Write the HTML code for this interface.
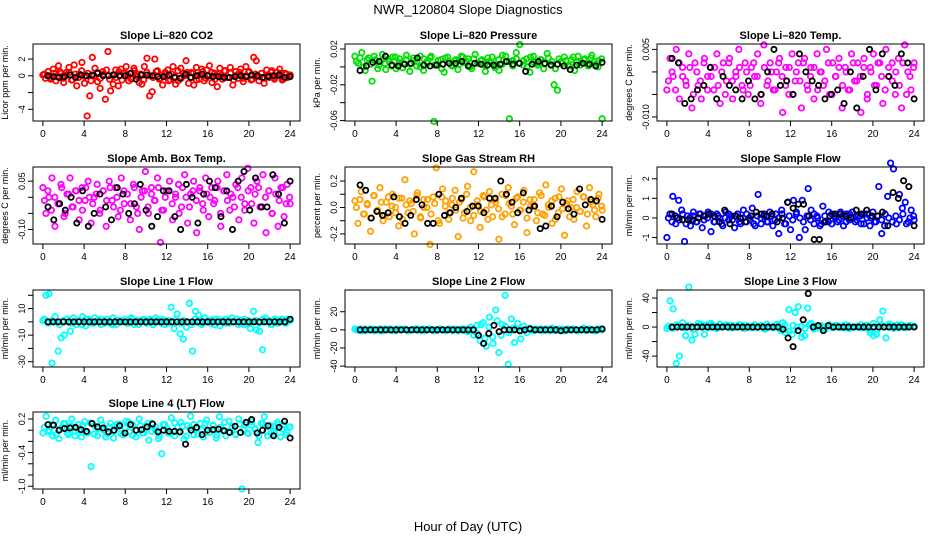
<!DOCTYPE html>
<html><head><meta charset="utf-8">
<style>
html,body{margin:0;padding:0;background:#fff;}
svg{display:block;font-family:"Liberation Sans",Arial,sans-serif;}
</style></head>
<body>
<svg id="chart" width="936" height="540" viewBox="0 0 936 540" xmlns="http://www.w3.org/2000/svg">
<text x="468" y="14" font-size="13" text-anchor="middle">NWR_120804  Slope Diagnostics</text>
<text x="468" y="531" font-size="13" text-anchor="middle">Hour of Day (UTC)</text>
</svg>
<script>
const xTicks=[0,4,8,12,16,20,24];
const co2Vals=[0.1,-0.3,0.5,-0.2,0.8,-0.6,1.2,0.3,-0.8,0.4,1.0,-0.5,1.3,-1.2,0.2,1.6,-0.9,-4.8,-2.4,2.2,0.9,-0.7,-1.5,0.5,-2.8,2.9,-1.8,-1.0,0.7,-1.2,0.8,0.3,1.1,-0.6,-0.4,0.9,0.2,-0.8,-1.0,1.1,2.1,-2.4,-1.9,2.0,0.6,-0.3,-1.1,0.4,0.7,-0.5,1.1,-1.0,-0.6,0.9,0.3,1.8,-0.9,0.4,-1.1,1.0,-0.4,0.8,-0.6,0.7,1.2,-0.8,0.3,-1.3,0.9,-0.4,0.6,-0.2,1.0,-1.1,0.5,-0.3,0.8,-0.7,1.1,0.4,-0.5,2.2,1.8,-0.6,0.3,-0.9,0.7,-0.2,0.6,-0.4,0.4,0.8,-0.5,0.3,-0.2,0.1];
const co2Vals2=[0.2,0.0,-0.4,0.3,-0.1,0.5,-0.3,0.1,0.4,-0.5,0.2,-0.2,0.6,-0.1,0.3,-0.6,0.0,0.4,-0.3,0.2,0.7,-0.4,0.1,-0.2,0.5,-0.5,0.3,0.0,-0.3,0.6,-0.1,0.2,-0.5,0.4,0.0,-0.2,0.5,-0.4,0.1,0.3,-0.6,0.2,-0.1,0.6,-0.3,0.0,0.4,-0.2,0.3,-0.5,0.1,0.5,-0.3,0.0,0.4,-0.4,0.2,-0.1,0.6,-0.2,0.3,-0.5,0.1,0.4,-0.3,0.0,0.5,-0.4,0.2,-0.1,0.3,-0.3,0.1,0.4,-0.2,0.0,0.3,-0.4,0.2,0.1];
const co2Blk=[0,-0.1,-0.2,-0.1,0.1,-0.2,0.1,0,0.1,0.3,0,0,0.1,0,0,0.3,-0.4,0.1,0.1,0,-0.1,-0.1,0.1,-0.2,-0.3,0.2,-0.2,0,0.2,0,-0.1,-0.1,-0.2,-0.2,-0.1,0,-0.1,0.1,0,-0.2,-0.1,0,0.1,-0.2,-0.1];
const presVals=[0.012,0.004,0.016,-0.004,0.01,-0.016,0.008,0.002,0.014,-0.003,0.006,0.011,-0.002,0.009,0.004,0.013,-0.005,0.007,0.001,0.012,-0.004,0.006,0.01,-0.061,0.003,0.008,-0.006,0.011,0.002,0.007,-0.003,0.012,0.005,0.009,-0.002,0.014,0.004,0.008,-0.005,0.006,0.011,0.001,-0.004,0.013,0.006,-0.058,0.007,0.016,0.025,0.002,0.009,-0.006,0.012,0.004,0.008,-0.002,0.015,0.003,-0.02,-0.026,0.006,0.011,0.001,0.008,-0.004,0.012,0.005,0.009,0.001,0.013,0.003,0.007,-0.058];
const presVals2=[0.006,0.01,0.0,0.008,0.003,0.012,-0.002,0.007,0.004,0.009,0.001,0.011,0.005,-0.001,0.008,0.003,0.01,0.006,0.0,0.009,0.004,0.012,0.002,0.007,-0.002,0.01,0.005,0.001,0.008,0.003,0.011,0.006,0.0,0.009,0.004,0.007,0.002,0.01,0.005,-0.001,0.008,0.003,0.012,0.006,0.001,0.009,0.004,0.007,0.0,0.011,0.005,0.002,0.008,0.003,0.01,0.006,-0.002,0.009,0.004,0.007,0.001,0.011,0.005,0.002,0.008,0.003,0.01,0.006,0.0,0.009];
const presBlk=[-0.004,0.001,0.005,0.006,0.012,0.002,0.001,0.003,0.004,0.01,0.002,0.001,0.002,0.003,0.004,0.004,0.006,0.001,0.004,0.003,0.002,0.002,0.003,0.006,0.003,0.004,-0.005,0.003,0.006,0.004,0.002,0.003,0.001,-0.003,0.002,0.004,0.003,0.001,0.005];
const tempVals=[-0.004,0.003,-0.001,0.005,-0.006,0.001,-0.002,0.004,-0.008,0.002,-0.003,-0.006,0.003,-0.001,0.001,-0.004,0.004,-0.007,0.002,-0.002,0.003,-0.006,0.0,0.005,-0.003,0.002,-0.005,0.001,-0.001,0.004,-0.007,0.006,-0.003,0.002,-0.004,0.0,0.003,-0.009,0.001,-0.005,0.004,-0.002,0.002,-0.008,0.003,-0.004,0.001,-0.006,0.004,0.0,-0.003,0.005,-0.005,0.002,-0.001,0.003,-0.008,0.001,-0.004,0.004,-0.002,0.002,-0.009,0.003,-0.006,0.001,0.004,-0.003,0.002,-0.007,0.005,-0.001,0.002,-0.005,0.003,-0.008,0.006,0.0,-0.004,0.002];
const tempVals2=[-0.002,0.0,-0.004,0.002,-0.001,-0.003,0.001,-0.005,0.0,-0.002,0.002,-0.004,-0.001,0.001,-0.003,0.0,-0.005,0.002,-0.002,-0.001,0.001,-0.004,0.0,-0.003,0.002,-0.001,-0.005,0.001,-0.002,0.0,-0.004,0.002,-0.001,-0.003,0.001,-0.005,0.0,-0.002,0.002,-0.003,-0.001,0.001,-0.004,0.0,-0.002,0.002,-0.005,-0.001,0.001,-0.003,0.0,-0.004,0.002,-0.002,-0.001,0.001,-0.005,0.0,-0.003,0.002,-0.001,-0.004,0.001,-0.002,0.0,-0.003,0.002,-0.005,-0.001,0.001];
const tempBlk=[0.003,0.002,-0.007,-0.006,-0.004,-0.003,0.001,-0.006,-0.001,-0.003,-0.004,-0.006,-0.002,-0.006,-0.005,0.0,0.005,-0.003,-0.002,-0.005,0.004,0.0,-0.002,-0.003,-0.006,-0.005,-0.004,-0.007,0.0,-0.008,-0.001,0.005,-0.004,0.004,-0.001,-0.003,0.004,0.002,-0.006];
const boxVals=[0.03,-0.05,0.0,0.06,-0.09,-0.02,0.04,-0.06,0.01,0.06,-0.03,0.02,-0.07,0.03,-0.01,0.05,-0.08,0.0,0.04,-0.04,0.02,-0.09,0.05,-0.01,0.03,-0.06,0.06,-0.02,0.01,-0.07,0.04,-0.03,-0.10,0.02,0.08,-0.05,0.03,-0.01,0.06,-0.14,-0.04,0.02,0.05,-0.07,0.0,0.04,-0.03,0.07,-0.08,0.01,0.05,-0.11,0.02,-0.02,0.06,-0.06,0.03,-0.01,0.05,-0.09,0.02,0.07,-0.04,0.0,0.04,-0.07,0.06,-0.02,0.09,0.03,-0.08,0.05,-0.03,0.07,-0.11,0.02,-0.05,0.06,-0.09,0.03,-0.06,0.04,-0.02];
const boxVals2=[-0.01,0.02,-0.04,0.0,-0.02,0.03,-0.05,0.01,-0.03,0.02,-0.01,-0.04,0.03,0.0,-0.02,0.01,-0.05,0.02,-0.01,0.03,-0.03,0.0,-0.04,0.02,0.01,-0.02,0.03,-0.05,0.0,0.02,-0.03,0.01,-0.01,0.03,-0.04,0.0,0.02,-0.02,0.01,-0.05,0.03,0.0,-0.03,0.02,-0.01,0.03,-0.04,0.01,0.0,-0.02,0.03,-0.05,0.02,-0.01,0.01,-0.03,0.03,0.0,-0.04,0.02,-0.02,0.01,0.03,-0.03,0.0,0.02,-0.05,0.01,-0.01,0.03,-0.02,0.0];
const boxBlk=[-0.03,-0.07,-0.02,-0.04,0.0,-0.08,0.02,-0.09,-0.05,0.01,-0.03,-0.07,0.03,0.01,-0.05,-0.02,0.04,-0.04,-0.09,-0.06,0.02,0.02,-0.06,-0.1,0.04,0.0,-0.08,0.01,0.05,0.03,-0.06,0.02,-0.1,0.05,0.08,-0.04,0.06,-0.03,-0.03,0.07,0.01,-0.08,0.05];
const rhVals=[0.05,-0.12,0.12,-0.05,0.02,-0.18,0.09,-0.03,0.15,-0.1,0.04,-0.07,0.1,0.0,-0.14,0.07,0.21,-0.04,0.03,-0.2,0.11,-0.08,0.06,0.0,-0.28,0.08,0.3,-0.12,0.14,0.05,-0.09,0.02,0.13,-0.22,0.06,-0.04,0.16,-0.1,0.27,0.02,-0.15,0.09,-0.02,0.12,-0.07,0.04,-0.24,0.1,-0.05,0.15,0.01,-0.13,0.08,-0.02,0.13,-0.19,0.06,0.01,-0.1,0.11,-0.05,0.17,0.0,-0.12,0.07,-0.04,0.14,-0.21,0.05,0.0,-0.09,0.12,-0.03,0.08,-0.14,0.15,0.02,-0.07,0.1,-0.02];
const rhVals2=[0.0,0.06,-0.05,0.03,-0.08,0.09,-0.02,0.04,-0.06,0.08,0.01,-0.04,0.07,-0.09,0.02,0.05,-0.03,0.09,-0.07,0.0,0.06,-0.05,0.03,-0.1,0.08,0.01,-0.04,0.07,-0.02,0.04,-0.08,0.1,0.0,-0.06,0.05,-0.03,0.08,-0.09,0.02,0.06,-0.01,-0.07,0.09,0.03,-0.05,0.07,-0.02,0.04,-0.08,0.01,0.06,-0.04,0.09,-0.06,0.02,0.05,-0.09,0.08,-0.01,0.03,-0.07,0.06,0.0,-0.03,0.08,-0.05,0.04,-0.02,0.07,0.01];
const rhBlk=[0.17,0.13,-0.08,-0.03,-0.06,-0.04,0.08,-0.07,-0.12,-0.06,0.06,0.02,-0.12,-0.12,0.1,-0.06,-0.04,0.0,0.07,-0.03,0.01,0.01,-0.04,0.07,0.07,0.2,0.1,0.04,-0.04,0.11,-0.02,0.01,-0.16,-0.14,0.01,-0.07,0.04,-0.01,-0.05,0.14,0.02,0.06,0.05,-0.09];
const flowVals=[-1.0,0.2,1.1,-0.3,0.9,0.4,-1.2,0.1,-0.4,0.3,-0.2,0.2,-0.5,0.1,0.3,-0.7,-0.2,0.2,0.0,-0.4,0.3,-0.1,0.1,-0.5,0.2,-0.3,0.4,-0.2,0.0,0.5,-0.4,1.2,-0.3,0.1,-0.2,0.3,-0.4,0.2,-0.8,0.4,-0.3,0.8,-0.6,0.9,0.3,-1.0,0.9,-0.6,1.5,0.4,-0.3,0.1,-0.4,0.6,-0.2,0.3,-0.3,0.1,-0.2,0.3,-0.4,0.2,-0.1,0.3,-0.2,0.1,-0.3,0.2,0.0,-0.4,0.3,-0.2,1.6,-0.8,-0.4,1.1,2.8,2.5,-0.3,1.2,0.5,0.8,-0.2,0.4,-0.1];
const flowVals2=[0.0,-0.2,0.1,-0.1,0.2,-0.3,0.0,0.1,-0.2,0.2,-0.1,0.0,0.2,-0.2,0.1,-0.3,0.0,0.2,-0.1,0.1,-0.2,0.0,0.2,-0.1,-0.3,0.1,0.0,0.2,-0.2,0.1,-0.1,0.0,0.2,-0.3,0.1,-0.1,0.2,0.0,-0.2,0.1,-0.1,0.2,0.0,-0.3,0.1,-0.2,0.2,0.0,-0.1,0.1,-0.2,0.2,0.0,-0.1,0.1,-0.3,0.2,0.0,-0.2,0.1,-0.1,0.2,0.0,-0.2,0.1,-0.1,0.2,-0.3,0.0,0.1];
const flowBlk=[0.2,0.0,-0.1,-0.1,-0.1,0.0,0.1,0.2,0.1,-0.2,0.4,-0.3,0.1,0.0,-0.2,0.1,0.3,0.2,0.1,0.2,-0.2,0.0,0.8,0.5,0.7,0.7,0.1,-1.1,-1.1,-0.2,0.1,0.2,0.2,0.1,0.0,0.4,0.2,0.4,0.1,0.1,0.3,-0.4,1.3,1.0,1.9,1.6,-0.4];
const l1Vals=[1,20,21,-31,4,-22,-12,-10,2,-7,3,-2,1,4,-3,2,-1,3,0,-2,1,2,-1,3,-2,1,0,2,-1,3,-2,1,0,2,-1,1,-2,3,0,2,1,-1,11,-5,6,-9,-13,-4,14,-22,8,5,-2,3,1,-1,2,0,-3,1,2,-1,3,0,-2,1,2,-1,-5,8,-6,-7,-21,3,1,-2,2,-1,1,0,2,1];
const l1Vals2=[2,-1,1,0,-2,1,2,-1,0,1,-2,2,0,-1,1,2,-1,0,-2,1,1,0,-1,2,0,-2,1,-1,2,0,1,-1,-2,1,0,2,-1,1,0,-2,2,1,-1,0,1,-2,2,0,-1,1,0,2,-1,-2,1,0,1,-1,2,0,-2,1,0,2,-1,1];
const l1Blk=[0,0,0,0,0,0,0,0,0,0,0,0,0,0,0,0,0,0,0,0,0,0,0,0,0,0,0,0,0,0,0,0,0,0,0,0,0,0,0,0,0,0,0,0,0,0,0,2];
const l2Vals=[1,0,-1,1,0,1,-1,0,1,-1,0,1,0,-1,1,0,1,-1,0,1,0,-1,1,0,1,-1,0,1,0,-1,1,0,1,-1,0,1,-2,3,-6,5,-12,8,-18,14,-8,22,-25,6,38,-38,12,-14,7,-10,4,-3,2,-1,1,0,-1,1,0,2,-1,1,0,-1,1,0,1,-1,0,2,-1,1,0,-1,1,0];
const l2Vals2=[0,1,-1,0,1,0,-1,1,0,-1,1,0,1,-1,0,1,0,-1,1,0,-1,1,0,1,-1,0,1,-1,0,1,-4,6,-9,3,-15,10,-6,4,-3,2,1,-1,0,1,-1,0,1,0,-1,1,0,1,-1,0,1,-1,0,1,0,-1,1,0];
const l2Blk=[0,0,0,0,0,0,0,0,0,0,0,0,0,0,0,0,0,0,0,0,0,0,0,-6,-15,-4,5,-2,0,0,0,-1,0,1,0,0,0,0,0,-1,0,0,0,0,0,0,0,1];
const l3Vals=[-2,36,25,-50,-40,6,-12,55,-18,-10,5,4,-10,3,5,0,-2,4,1,3,-1,2,0,3,-1,2,1,-1,3,0,2,-1,4,0,-1,3,-2,6,-8,24,-10,20,28,-14,-12,26,5,-3,2,0,-2,1,3,-1,2,0,1,-1,2,-1,0,1,3,-1,2,-8,-12,-10,10,22,-15,4,2,0,-1,3,1,0,2,1];
const l3Vals2=[1,-2,3,0,-1,2,-3,1,0,2,-1,3,-2,0,1,2,-1,0,3,-2,1,0,-1,2,-3,1,0,4,-5,3,-6,2,0,1,-2,3,0,-1,2,-3,1,0,2,-1,3,-2,0,1,-1,2,-4,5,-3,2,0,1,-2,3,0,-1,2,1];
const l3Blk=[0,0,0,0,0,0,0,0,0,0,0,0,0,0,0,0,0,0,0,0,0,0,-3,-15,-27,-5,10,46,0,2,-5,2,0,0,0,0,0,0,0,0,0,0,0,0,0,0,0,0,0];
const l4Vals=[-0.05,0.25,0.0,-0.1,0.18,-0.15,0.05,0.12,-0.08,0.2,-0.02,0.1,-0.12,0.15,-0.05,-0.65,0.08,-0.1,0.18,0.0,-0.06,0.12,-0.14,0.05,0.1,-0.08,0.16,-0.03,0.09,-0.12,0.2,-0.05,0.07,-0.18,0.12,0.0,-0.15,-0.42,0.1,-0.05,0.22,-0.1,0.05,0.14,-0.16,0.08,0.25,-0.08,0.02,0.12,-0.12,0.18,-0.04,0.09,-0.14,0.24,0.0,-0.1,0.16,0.05,-0.07,0.2,-1.05,0.1,-0.06,0.15,0.02,-0.22,0.12,0.24,-0.1,0.08,-0.02,0.14,-0.12,0.1,-0.04,0.06];
const l4Vals2=[0.05,-0.03,0.1,-0.08,0.02,0.12,-0.05,0.07,-0.1,0.0,0.09,-0.04,0.13,-0.07,0.03,0.1,-0.12,0.06,-0.02,0.11,-0.06,0.04,0.14,-0.09,0.0,0.08,-0.05,0.12,-0.02,0.06,-0.1,0.1,0.02,-0.06,0.13,-0.03,0.07,-0.11,0.04,0.1,-0.07,0.01,0.12,-0.04,0.08,-0.09,0.05,0.14,-0.02,0.06,-0.08,0.11,0.0,-0.05,0.09,0.03,-0.1,0.12,-0.03,0.07,-0.06,0.1,0.02,-0.08,0.05];
const l4Blk=[0.1,0.09,0.0,0.03,0.04,0.05,0.01,-0.02,0.12,0.06,0.04,-0.03,0.0,0.08,-0.05,0.1,0.0,0.01,0.06,0.11,-0.03,0.0,-0.02,-0.02,-0.03,-0.25,0.0,0.05,-0.08,0.0,0.01,0.02,-0.01,-0.04,0.07,-0.04,0.14,0.19,-0.05,0.0,0.08,-0.1,0.05,0.16,-0.14];

const panels=[
 {id:'li820-co2',title:'Slope Li–820 CO2',ylab:'Licor ppm per min.',col:0,row:0,ymin:-5.4,ymax:3.8,ticks:[-4,-2,0,2],labels:['-4','','0','2'],color:'#FF0000',vals:co2Vals,vals2:co2Vals2,blk:co2Blk},
 {id:'li820-pressure',title:'Slope Li–820 Pressure',ylab:'kPa per min.',col:1,row:0,ymin:-0.0605,ymax:0.0256,ticks:[-0.06,-0.04,-0.02,0,0.02],labels:['-0.06','','-0.02','','0.02'],color:'#00E000',vals:presVals,vals2:presVals2,blk:presBlk},
 {id:'li820-temp',title:'Slope Li–820 Temp.',ylab:'degrees C per min.',col:2,row:0,ymin:-0.0109,ymax:0.0062,ticks:[-0.01,-0.005,0,0.005],labels:['-0.010','','','0.005'],color:'#FF00FF',vals:tempVals,vals2:tempVals2,blk:tempBlk},
 {id:'amb-box-temp',title:'Slope Amb. Box Temp.',ylab:'degrees C per min.',col:0,row:1,ymin:-0.145,ymax:0.094,ticks:[-0.1,-0.05,0,0.05],labels:['-0.10','','','0.05'],color:'#FF00FF',vals:boxVals,vals2:boxVals2,blk:boxBlk},
 {id:'gas-stream-rh',title:'Slope Gas Stream RH',ylab:'percent per min.',col:1,row:1,ymin:-0.276,ymax:0.306,ticks:[-0.2,-0.1,0,0.1,0.2],labels:['-0.2','','0.0','','0.2'],color:'#FFA000',vals:rhVals,vals2:rhVals2,blk:rhBlk},
 {id:'sample-flow',title:'Slope Sample Flow',ylab:'ml/min per min.',col:2,row:1,ymin:-1.33,ymax:2.6,ticks:[-1,0,1,2],labels:['-1','0','1','2'],color:'#0000FF',vals:flowVals,vals2:flowVals2,blk:flowBlk},
 {id:'line1-flow',title:'Slope Line 1 Flow',ylab:'ml/min per min.',col:0,row:2,ymin:-34,ymax:24,ticks:[-30,-20,-10,0,10,20],labels:['-30','','-10','','10',''],color:'#00FFFF',vals:l1Vals,vals2:l1Vals2,blk:l1Blk},
 {id:'line2-flow',title:'Slope Line 2 Flow',ylab:'ml/min per min.',col:1,row:2,ymin:-41,ymax:44,ticks:[-40,-20,0,20],labels:['-40','-20','0','20'],color:'#00FFFF',vals:l2Vals,vals2:l2Vals2,blk:l2Blk},
 {id:'line3-flow',title:'Slope Line 3 Flow',ylab:'ml/min per min.',col:2,row:2,ymin:-55,ymax:51,ticks:[-40,-20,0,20,40],labels:['-40','','0','','40'],color:'#00FFFF',vals:l3Vals,vals2:l3Vals2,blk:l3Blk},
 {id:'line4-flow',title:'Slope Line 4 (LT) Flow',ylab:'ml/min per min.',col:0,row:3,ymin:-1.05,ymax:0.325,ticks:[-1.0,-0.8,-0.6,-0.4,-0.2,0,0.2],labels:['-1.0','','','-0.4','','','0.2'],color:'#00FFFF',vals:l4Vals,vals2:l4Vals2,blk:l4Blk}
];
const svg=document.getElementById('chart');
const NS='http://www.w3.org/2000/svg';
const colX=[33,345,657], rowY=[44,167,290,412], W=267, H=77;
function mk(tag,attrs,parent){const e=document.createElementNS(NS,tag);for(const k in attrs)e.setAttribute(k,attrs[k]);parent.appendChild(e);return e;}
panels.forEach(p=>{
  const x0=colX[p.col], y0=rowY[p.row];
  const g=mk('g',{},svg);
  
  
  const sx=v=>x0+(v+0.96)/25.92*W;
  const sy=v=>y0+H-(v-p.ymin)/(p.ymax-p.ymin)*H;
  const t=mk('text',{x:x0+W/2,y:y0-5,'font-size':11,'font-weight':'bold','text-anchor':'middle'},g);
  t.textContent=p.title;
  
  
  const yl=mk('text',{x:0,y:0,'font-size':9,'text-anchor':'middle',transform:`translate(${x0-25},${y0+H/2}) rotate(-90)`},g);
  yl.textContent=p.ylab;
  
  
  const pts=mk('g',{fill:'none','stroke-width':1.8},g);
  
  
  p.vals.forEach((v,i)=>{
    const c=mk('circle',{cx:sx(i*24/(p.vals.length-1)),cy:sy(v),r:2.7,stroke:p.color},pts);
    
    
  });
  p.vals2.forEach((v,i)=>{
    const c=mk('circle',{cx:sx(0.15+i*23.8/(p.vals2.length-1)),cy:sy(v),r:2.7,stroke:p.color},pts);
    
    
  });
  p.blk.forEach((v,i)=>{
    const c=mk('circle',{cx:sx(0.5+i*23.5/(p.blk.length-1)),cy:sy(v),r:2.6,stroke:'#000'},pts);
    
    
  });
  const box=mk('rect',{x:x0,y:y0,width:W,height:H,fill:'none',stroke:'#000','stroke-width':1},g);
  
  
  const ax=mk('g',{stroke:'#000','stroke-width':1},g);
  
  
  mk('line',{x1:sx(0),x2:sx(24),y1:y0+H,y2:y0+H},ax);
  xTicks.forEach(v=>{
    mk('line',{x1:sx(v),x2:sx(v),y1:y0+H,y2:y0+H+5},ax);
    const tl=mk('text',{x:sx(v),y:y0+H+16,'font-size':10,'text-anchor':'middle',stroke:'none'},ax);
    tl.textContent=v;
    
    
  });
  const ay=mk('g',{stroke:'#000','stroke-width':1},g);
  
  
  mk('line',{x1:x0,x2:x0,y1:sy(p.ticks[0]),y2:sy(p.ticks[p.ticks.length-1])},ay);
  p.ticks.forEach((v,i)=>{
    mk('line',{x1:x0-5,x2:x0,y1:sy(v),y2:sy(v)},ay);
    if(p.labels[i]){
      const tl=mk('text',{x:0,y:0,'font-size':9,'text-anchor':'middle',stroke:'none',transform:`translate(${x0-8},${sy(v)}) rotate(-90)`},ay);
      tl.textContent=p.labels[i];
      
      
    }
  });
});
</script>
</body></html>
